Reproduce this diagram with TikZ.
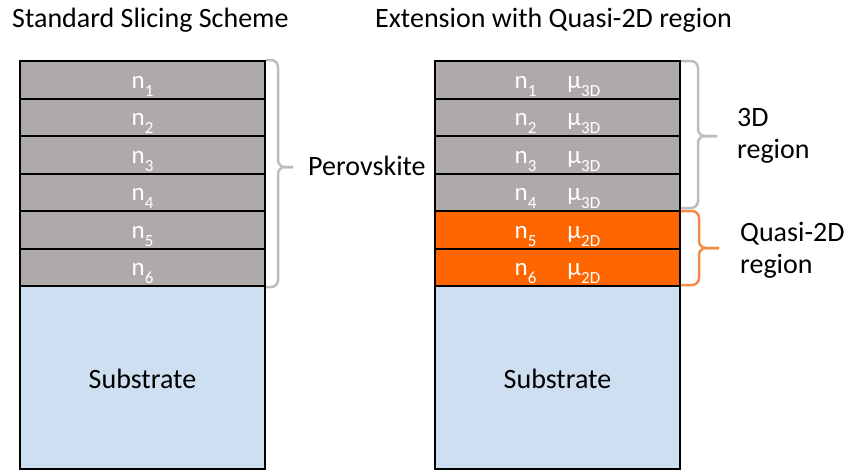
\documentclass[tikz,border=0pt]{standalone}
\usepackage{fontspec}
\setmainfont{Carlito}
\usepackage{tikz}
\usetikzlibrary{positioning}

\definecolor{slicegray}{HTML}{AEAAAA}
\definecolor{quasiorange}{HTML}{FF6600}
\definecolor{substblue}{HTML}{CDDFF0}
\definecolor{bracegray}{HTML}{BDBDBD}
\definecolor{braceorange}{HTML}{F08C46}
\newcommand{\lsub}[1]{\raisebox{-8pt}{\fontsize{17}{17}\selectfont #1}}

\begin{document}
\begin{tikzpicture}[x=1pt,y=-1pt,
    slice/.style={draw=black,line width=2pt,fill=slicegray,minimum width=245pt,minimum height=37.5pt,
      inner sep=0pt,text=white,font=\fontsize{25}{25}\selectfont,text height=20pt,text depth=3.5pt},
    substrate/.style={draw=black,line width=2pt,fill=substblue,minimum width=245pt,minimum height=183pt,
      inner sep=0pt,font=\fontsize{28}{28}\selectfont,text height=24pt,text depth=3pt},
    big/.style={font=\fontsize{28}{31.7}\selectfont,inner sep=0pt},
    gbrace/.style={draw=bracegray,line width=2.5pt,rounded corners=7pt},
    obrace/.style={gbrace,draw=braceorange}]
  \useasboundingbox (0,0) rectangle (847,472);

  % titles
  \node[big,anchor=base west] (ttlA) at (12,27) {Standard Slicing Scheme};
  \node[big,anchor=base east] (ttlB) at (732,27) {Extension with Quasi-2D region};

  % left stack
  \foreach \i in {1,...,6}
    \node[slice] (l\i) at (142.5,{42.25+37.5*\i}) {n\lsub{\i}};
  \node[substrate] (lsubst) at (142.5,377.5) {Substrate};

  % right stack
  \foreach \i/\m/\c in {1/3D/slicegray,2/3D/slicegray,3/3D/slicegray,4/3D/slicegray,
                        5/2D/quasiorange,6/2D/quasiorange}
    \node[slice,fill=\c] (r\i) at (557.5,{42.25+37.5*\i}) {n\lsub{\i}\hspace{31pt}μ\lsub{\m}};
  \node[substrate] (rsubst) at (557.5,377.5) {Substrate};

  % braces
  \coordinate (ptip) at (293,167);
  \draw[gbrace] (l1.north east) -| (278,167) -- (ptip);
  \draw[gbrace] (l6.south east) -| (278,167) -- (ptip);
  \node[big,anchor=base west] (perov) at (308,175) {Perovskite};

  \coordinate (gtip) at (717,136);
  \draw[gbrace] ([yshift=-1pt]r1.north east) -| (698,136) -- (gtip);
  \draw[gbrace] ([yshift=4pt]r4.south east) -| (698,136) -- (gtip);
  \node[big,anchor=base west,align=left] (reg3d) at (737,158.4) {3D\\region};

  \coordinate (otip) at (719,248);
  \draw[obrace] ([yshift=-1pt]r5.north east) -| (699,248) -- (otip);
  \draw[obrace] ([yshift=2pt]r6.south east) -| (699,248) -- (otip);
  \node[big,anchor=base west,align=left] (regq2d) at (740,273.4) {Quasi-2D\\region};
\end{tikzpicture}
\end{document}
